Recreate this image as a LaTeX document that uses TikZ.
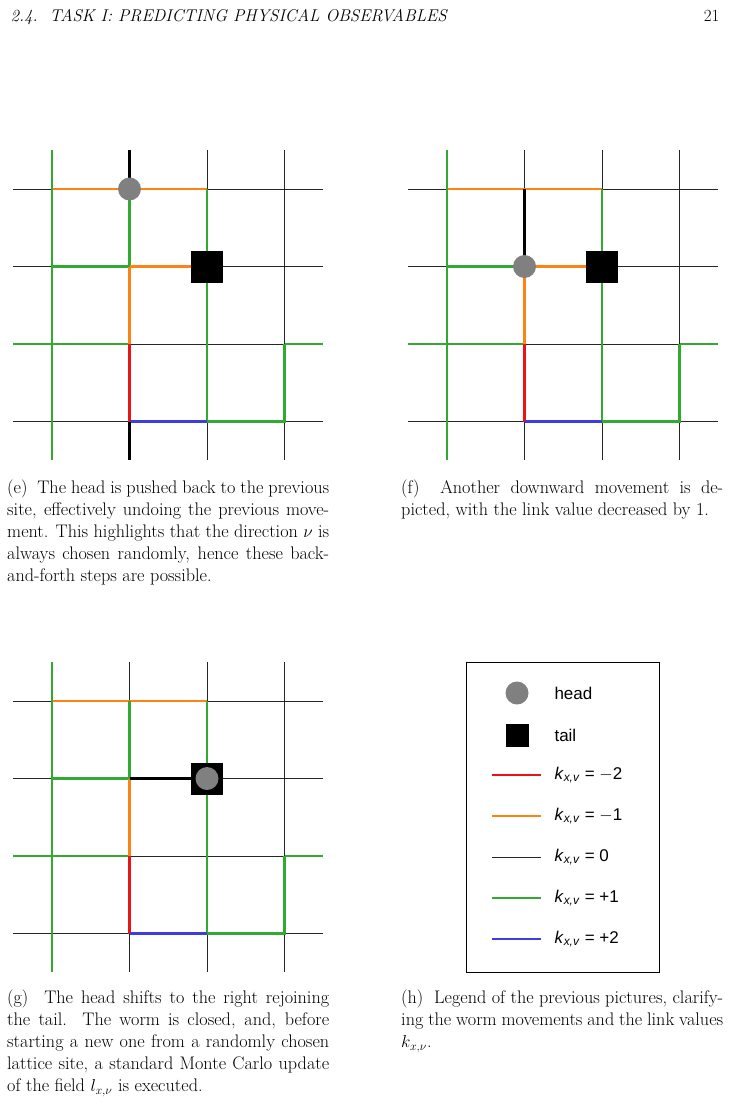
\documentclass[tikz,border=0pt]{standalone}
\usepackage{fontspec}
\newfontfamily\legfont{Liberation Sans}
\usetikzlibrary{positioning}
\definecolor{lkred}{RGB}{235,20,20}
\definecolor{lkorange}{RGB}{255,130,20}
\definecolor{lkgreen}{RGB}{50,170,50}
\definecolor{lkblue}{RGB}{60,60,225}
\tikzset{
  lat/.style={line width=1pt,black!85},
  km2/.style={line width=2.2pt,lkred},
  km1/.style={line width=2.2pt,lkorange},
  kp1/.style={line width=2.2pt,lkgreen},
  kp2/.style={line width=2.2pt,lkblue},
  worm/.style={line width=3pt,black},
  head/.style={circle,fill=black!50,inner sep=0pt,minimum size=23pt},
  tail/.style={rectangle,fill=black,inner sep=0pt,minimum size=32pt},
  capt/.style={anchor=north west,text width=322pt,align=justify,inner sep=0pt,
    font=\fontsize{18.2}{22}\selectfont},
}
% background lattice plus the links shared by all three panels
\newcommand{\lattice}{%
  \foreach \i in {0,...,3} {
    \draw[lat] (\i,-0.5) -- (\i,3.5);
    \draw[lat] (-0.5,\i) -- (3.5,\i);
  }
  \draw[km1] (0,0) -- (2,0);
  \draw[kp1] (0,-0.5) -- (0,3.5);
  \draw[kp1] (-0.5,2) -- (1,2);
  \draw[kp1] (3,2) -- (3.5,2);
  \draw[kp1] (0,1) -- (1,1);
  \draw[kp1] (2,0) -- (2,3) -- (3,3) -- (3,2);
  \draw[km1] (1,1) -- (1,2);
  \draw[km2] (1,2) -- (1,3);
  \draw[kp2] (1,3) -- (2,3);
}
\begin{document}
\begin{tikzpicture}[x=1pt,y=1pt,yscale=-1]
\useasboundingbox (0,0) rectangle (730,1105);

% page header
\node[anchor=base west,font=\fontsize{17}{22}\selectfont\itshape] (hdr) at (7,22) {2.4.\ \ TASK I: PREDICTING PHYSICAL OBSERVABLES};
\node[anchor=base east,font=\fontsize{17}{22}\selectfont] (pg) at (723,22) {21};

% (e)
\begin{scope}[shift={(52,189)},x=77.5pt,y=77.5pt]
  \lattice
  \draw[kp1] (1,0) -- (1,1);
  \draw[km1] (1,1) -- (2,1);
  \draw[worm] (1,-0.5) -- (1,0);
  \draw[worm] (1,3) -- (1,3.5);
  \node[tail] (eT) at (2,1) {};
  \node[head] (eH) at (1,0) {};
\end{scope}

% (f)
\begin{scope}[shift={(447,189)},x=77.5pt,y=77.5pt]
  \lattice
  \draw[km1] (1,1) -- (2,1);
  \draw[worm] (1,0) -- (1,1);
  \node[tail] (fT) at (2,1) {};
  \node[head] (fH) at (1,1) {};
\end{scope}

% (g)
\begin{scope}[shift={(52,701)},x=77.5pt,y=77.5pt]
  \lattice
  \draw[kp1] (1,0) -- (1,1);
  \draw[worm] (1,1) -- (2,1);
  \node[tail] (gT) at (2,1) {};
  \node[head] (gH) at (2,1) {};
\end{scope}

% (h) legend
\draw[line width=0.8pt] (466,662) rectangle (659,972);
\node[head] (lH) at (517,693) {};
\node[tail,minimum size=23pt] (lT) at (517,735) {};
\foreach \st/\v [count=\n] in {km2/$-$2,km1/$-$1,lat/0,kp1/+1,kp2/+2} {
  \coordinate (l\n a) at (492,734+41*\n);
  \coordinate (l\n b) at (541,734+41*\n);
  \draw[\st] (l\n a) -- (l\n b);
  \node[anchor=west,font=\legfont\fontsize{17}{20}\selectfont] (lk\n) at (551,734+41*\n)
    {\textit{k}\textsubscript{\textit{x,v}} = \v};
}
\node[anchor=west,font=\legfont\fontsize{17}{20}\selectfont] (lh) at (551,693) {head};
\node[anchor=west,font=\legfont\fontsize{17}{20}\selectfont] (lt) at (551,735) {tail};

% captions
\node[capt] (ce) at (7,480) {(e)\ \ The head is pushed back to the previous site, effectively undoing the previous movement. This highlights that the direction $\nu$ is always chosen randomly, hence these back-and-forth steps are possible.};
\node[capt] (cf) at (401,480) {(f)\ \ Another downward movement is depicted, with the link value decreased by 1.};
\node[capt] (cg) at (7,990) {(g)\ \ The head shifts to the right rejoining the tail. The worm is closed, and, before starting a new one from a randomly chosen lattice site, a standard Monte Carlo update of the field $l_{x,\nu}$ is executed.};
\node[capt] (ch) at (401,990) {(h)\ \ Legend of the previous pictures, clarifying the worm movements and the link values $k_{x,\nu}$.};
\end{tikzpicture}
\end{document}
